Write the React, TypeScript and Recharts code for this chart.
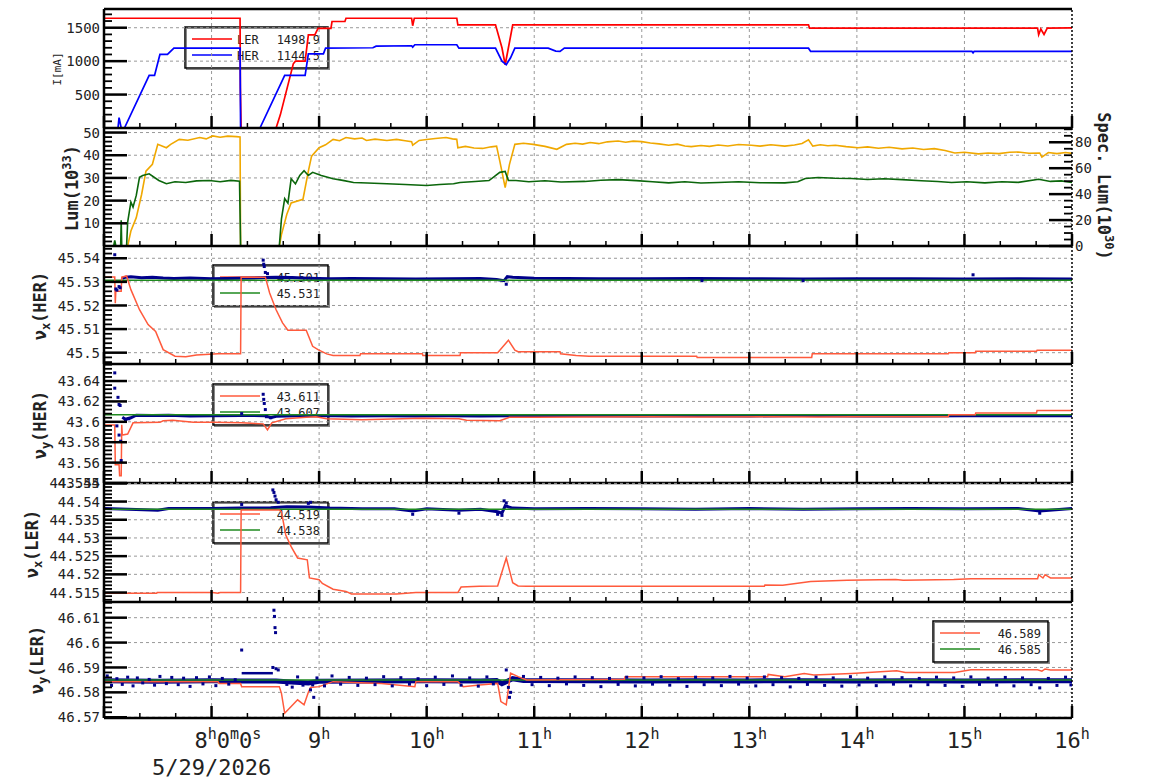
import React from 'react';
import { ComposedChart, Line, Scatter, XAxis, YAxis, ReferenceLine } from 'recharts';

const W = 1154;
const H = 782;
const LEFT = 104;
const RIGHT = 1072;
const MONO = '"DejaVu Sans Mono", monospace';
const INK = '#222';

type Pt = [number, number];

// ---- beam currents [hour, mA] ----
const LER_I: Pt[] = [
  [7.0, 1642], [8.265, 1642], [8.268, 600], [8.275, 0], [8.6, 0], [8.64, 200], [8.76, 960], [8.78, 1000],
  [8.87, 1000], [8.9, 1394], [8.96, 1394], [8.99, 1490], [9.11, 1490], [9.12, 1593], [9.24, 1593], [9.25, 1642],
  [9.86, 1642], [9.87, 1530], [9.885, 1642], [10.28, 1642], [10.29, 1544], [10.64, 1544], [10.7, 1200],
  [10.73, 946], [10.76, 1200], [10.8, 1544], [13.55, 1544], [13.56, 1493], [15.68, 1493], [15.69, 1394],
  [15.71, 1480], [15.74, 1400], [15.77, 1493], [16.0, 1499],
];
const HER_I: Pt[] = [
  [7.0, 0], [7.13, 0], [7.14, 155], [7.16, 0], [7.19, 0], [7.42, 787], [7.47, 787], [7.52, 1100], [7.59, 1100],
  [7.65, 1194], [8.265, 1194], [8.27, 0], [8.45, 0], [8.68, 787], [8.87, 787], [8.9, 1110], [9.04, 1110],
  [9.06, 1194], [9.5, 1200], [9.53, 1224], [9.86, 1230], [9.87, 1210], [9.89, 1245], [10.28, 1245], [10.3, 1194],
  [10.64, 1194], [10.7, 1000], [10.74, 946], [10.78, 1050], [10.82, 1194], [11.13, 1194], [11.2, 1150],
  [11.24, 1145], [11.28, 1194], [13.55, 1194], [13.57, 1145], [15.07, 1145], [15.08, 1125], [15.09, 1145],
  [16.0, 1145],
];

// ---- luminosity [hour, 1e33] and specific luminosity [hour, 1e30] ----
const LUM: Pt[] = [
  [7.0, 0], [7.22, 0], [7.25, 6.6], [7.3, 12.5], [7.35, 22.8], [7.39, 33], [7.45, 36], [7.5, 44.8], [7.58, 43.3],
  [7.62, 44.8], [7.7, 47], [7.78, 46.6], [7.89, 47.8], [7.95, 47.2], [8.01, 48.5], [8.08, 47.9], [8.15, 48.4],
  [8.23, 48.2], [8.265, 48], [8.27, 0], [8.63, 0], [8.65, 5],
  [8.7, 14], [8.74, 19], [8.85, 20.6], [8.9, 33], [8.93, 39.6], [9.0, 43.3], [9.06, 44.6], [9.13, 47], [9.19, 46.4],
  [9.25, 47.8], [9.33, 47.2], [9.4, 47.6], [9.44, 46.5], [9.52, 47.1], [9.63, 46.5], [9.72, 47.0], [9.8, 46.4],
  [9.86, 46], [9.87, 44.4], [9.93, 46.5], [10.0, 46.9], [10.08, 47.4], [10.18, 47.8], [10.24, 47.2], [10.28, 47],
  [10.29, 43.3], [10.36, 43.9], [10.44, 43.2], [10.52, 43], [10.6, 43.7], [10.65, 44], [10.68, 37.4],
  [10.73, 25.7], [10.77, 36], [10.82, 44.8], [10.9, 45.3], [10.99, 44.8], [11.1, 43.9], [11.21, 42.6],
  [11.3, 44.8], [11.38, 45.3], [11.45, 44.9], [11.52, 45.6], [11.6, 45.1], [11.68, 45.9], [11.78, 46.3],
  [11.85, 45.7], [11.92, 46.2], [12.0, 46], [12.08, 45.4], [12.16, 45.0], [12.25, 44.4], [12.33, 44.9],
  [12.4, 44.1], [12.46, 43.8], [12.55, 44.3], [12.63, 43.9], [12.71, 44.5], [12.8, 44.1], [12.9, 44.7],
  [13.02, 44.4], [13.1, 44.0], [13.2, 44.6], [13.33, 44], [13.42, 44.5], [13.49, 45.2], [13.55, 46.8],
  [13.59, 44], [13.66, 44.6], [13.73, 44.2], [13.8, 44.4], [13.9, 43.8], [14.01, 43.3], [14.1, 43.7],
  [14.2, 43.1], [14.3, 43.5], [14.42, 42.8], [14.52, 43.2], [14.62, 42.5], [14.72, 42.9], [14.82, 42.1],
  [14.91, 41], [15.0, 41.3], [15.13, 40.6], [15.22, 41.0], [15.32, 40.7], [15.42, 41.3], [15.5, 41.4],
  [15.6, 40.9], [15.7, 41], [15.72, 39.2], [15.78, 41.2], [15.86, 40.7], [15.94, 41.2], [16.0, 40.8],
];
const SPEC_LUM: Pt[] = [
  [7.0, 0], [7.09, 0], [7.1, 4.4], [7.11, 0], [7.155, 0], [7.16, 19.8], [7.165, 0], [7.21, 0], [7.22, 18.5],
  [7.25, 33.8], [7.27, 30], [7.3, 39], [7.33, 53], [7.36, 54.4], [7.42, 55.7], [7.51, 50.5], [7.58, 48],
  [7.66, 49.5], [7.76, 49], [7.86, 50.2], [7.98, 50.5], [8.08, 49.6], [8.18, 50.6], [8.26, 50], [8.265, 25],
  [8.27, 0], [8.63, 0], [8.65, 21], [8.68, 36.5], [8.71, 33], [8.74, 51.8],
  [8.78, 48], [8.82, 54.4], [8.86, 58], [8.9, 54.4], [8.94, 56.8], [9.02, 54.4], [9.13, 51.8], [9.22, 50.6],
  [9.32, 49], [9.45, 48.6], [9.63, 48], [9.8, 47.4], [10.0, 46.7], [10.12, 47.4], [10.25, 48], [10.31, 49],
  [10.45, 49.7], [10.58, 50.5], [10.68, 56.8], [10.73, 57.5], [10.76, 50.5], [10.83, 50.5], [10.95, 49.6],
  [11.1, 50.3], [11.25, 49.4], [11.47, 49.8], [11.62, 50.7], [11.78, 51.2], [11.95, 50.4], [12.1, 49.5],
  [12.25, 48.7], [12.4, 49.5], [12.55, 48.6], [12.71, 49], [12.9, 49.6], [13.1, 48.8], [13.33, 48.7],
  [13.45, 49.5], [13.52, 52], [13.64, 52.8], [13.8, 52.2], [13.95, 52], [14.1, 51.3], [14.25, 51.9],
  [14.42, 51.2], [14.6, 50.3], [14.75, 49.7], [14.88, 49], [15.02, 49.6], [15.19, 48.7], [15.35, 49.5],
  [15.5, 49.1], [15.69, 51.5], [15.8, 49.8], [15.9, 50.2], [16.0, 49],
];

// ---- tunes ----
const NUX_HER_SET: Pt[] = [
  [7.0, 45.5321], [7.1, 45.5321], [7.105, 45.521], [7.11, 45.526], [7.16, 45.526], [7.165, 45.532], [7.21, 45.5325],
  [7.25, 45.5267], [7.33, 45.5182], [7.41, 45.5119], [7.48, 45.509], [7.55, 45.5013], [7.66, 45.4985],
  [7.76, 45.4983], [7.86, 45.499], [8.06, 45.4995], [8.27, 45.4995], [8.275, 45.532], [8.5, 45.532],
  [8.54, 45.5253], [8.6, 45.5182], [8.66, 45.5126], [8.71, 45.5095], [8.88, 45.5095], [8.94, 45.5027],
  [8.99, 45.5013], [9.07, 45.4995], [9.13, 45.4988], [9.38, 45.4988], [9.385, 45.4995], [9.96, 45.4995],
  [9.965, 45.4988], [10.31, 45.4988], [10.315, 45.5], [10.66, 45.5], [10.76, 45.5053], [10.82, 45.5011],
  [10.85, 45.5004], [11.24, 45.5004], [11.245, 45.4995], [11.39, 45.4988], [11.51, 45.4985], [12.51, 45.4985],
  [12.515, 45.498], [13.58, 45.498], [13.585, 45.4995], [14.85, 45.4995], [14.855, 45.5], [15.1, 45.5],
  [15.105, 45.5006], [15.67, 45.5006], [15.675, 45.501], [16.0, 45.501],
];
const NUX_HER_REF: Pt[] = [[7.0, 45.5307], [16.0, 45.5307]];
const NUX_HER_MEAS: Pt[] = [
  [7.17, 45.5315], [7.2, 45.532], [7.25, 45.5322], [7.35, 45.5318], [7.45, 45.532], [7.55, 45.5316],
  [7.65, 45.5314], [7.8, 45.5316], [8.0, 45.5313], [8.27, 45.5315], [8.5, 45.5318], [8.6, 45.532],
  [8.75, 45.5318], [8.9, 45.5315], [9.1, 45.5313], [9.3, 45.5314], [9.6, 45.5313], [9.9, 45.5312],
  [10.2, 45.5313], [10.5, 45.5314], [10.65, 45.531], [10.72, 45.5305], [10.75, 45.5322], [10.8, 45.532],
  [11.0, 45.5315], [11.3, 45.5314], [11.6, 45.5313], [12.0, 45.5313], [12.5, 45.5314], [13.0, 45.5313],
  [13.5, 45.5312], [14.0, 45.5313], [14.5, 45.5313], [15.0, 45.5312], [15.5, 45.5313], [16.0, 45.5312],
];
const NUX_HER_DOTS: Pt[] = [
  [7.1, 45.5415], [7.11, 45.527], [7.12, 45.5265], [7.14, 45.528], [7.15, 45.5275], [8.48, 45.5392],
  [8.485, 45.5375], [8.49, 45.5365], [8.5, 45.534], [8.52, 45.5335], [10.74, 45.529], [12.56, 45.5305],
  [13.5, 45.5305], [15.08, 45.533],
];

const NUY_HER_SET: Pt[] = [
  [7.0, 43.597], [7.1, 43.597], [7.105, 43.558], [7.14, 43.558], [7.145, 43.547], [7.16, 43.547], [7.165, 43.597],
  [7.17, 43.587], [7.22, 43.588], [7.27, 43.599], [7.52, 43.5995], [7.55, 43.601], [7.64, 43.6015],
  [7.83, 43.5995], [8.01, 43.5995], [8.28, 43.599], [8.48, 43.598], [8.52, 43.592], [8.56, 43.599],
  [8.69, 43.603], [8.88, 43.6045], [8.97, 43.605], [9.07, 43.603], [9.4, 43.602], [9.96, 43.6035],
  [10.3, 43.603], [10.37, 43.6015], [10.68, 43.601], [10.77, 43.6045], [11.0, 43.6045], [11.47, 43.6047],
  [12.06, 43.605], [12.52, 43.6047], [13.17, 43.605], [13.64, 43.6047], [13.95, 43.605], [14.85, 43.605],
  [14.855, 43.607], [15.1, 43.607], [15.105, 43.6087], [15.67, 43.6087], [15.675, 43.611], [16.0, 43.611],
];
const NUY_HER_REF: Pt[] = [[7.0, 43.607], [16.0, 43.607]];
const NUY_HER_MEAS: Pt[] = [
  [7.17, 43.6045], [7.2, 43.6025], [7.25, 43.604], [7.3, 43.6065], [7.45, 43.6062], [7.6, 43.6065],
  [7.8, 43.6058], [8.0, 43.606], [8.27, 43.6062], [8.5, 43.606], [8.55, 43.604], [8.6, 43.6055], [8.8, 43.606],
  [9.0, 43.6062], [9.3, 43.6058], [9.6, 43.606], [9.9, 43.6057], [10.2, 43.606], [10.5, 43.6058], [10.8, 43.606],
  [11.2, 43.6062], [11.6, 43.606], [12.0, 43.6058], [12.5, 43.606], [13.0, 43.6057], [13.5, 43.6062],
  [14.0, 43.6058], [14.5, 43.6057], [15.0, 43.606], [15.5, 43.606], [16.0, 43.606],
];
const NUY_HER_DOTS: Pt[] = [
  [7.1, 43.648], [7.1, 43.633], [7.13, 43.624], [7.14, 43.617], [7.15, 43.616], [7.12, 43.596], [7.14, 43.587],
  [7.155, 43.581], [7.16, 43.562], [7.2, 43.602], [7.23, 43.603], [8.28, 43.608], [8.48, 43.627],
  [8.485, 43.622], [8.49, 43.618], [8.5, 43.612], [8.51, 43.605], [8.55, 43.604],
];

const NUX_LER_SET: Pt[] = [
  [7.0, 44.5148], [7.49, 44.5148], [7.495, 44.515], [8.01, 44.515], [8.06, 44.5148], [8.08, 44.515],
  [8.27, 44.515], [8.275, 44.5377], [8.63, 44.5377], [8.65, 44.5372], [8.69, 44.5308], [8.74, 44.5276],
  [8.8, 44.5245], [8.89, 44.524], [8.91, 44.519], [9.0, 44.5185], [9.03, 44.5175], [9.13, 44.5159],
  [9.25, 44.5153], [9.3, 44.5146], [9.72, 44.5146], [9.9, 44.515], [10.29, 44.515], [10.32, 44.5165],
  [10.49, 44.5167], [10.66, 44.5168], [10.74, 44.5245], [10.8, 44.5177], [10.85, 44.5168], [10.93, 44.5167],
  [13.14, 44.5167], [13.145, 44.5171], [13.31, 44.517], [13.57, 44.518], [13.91, 44.5184], [14.36, 44.5186],
  [14.43, 44.5184], [14.9, 44.5186], [15.06, 44.5188], [15.68, 44.5188], [15.69, 44.5199], [15.73, 44.519],
  [15.75, 44.5199], [15.8, 44.519], [16.0, 44.519],
];
const NUX_LER_REF: Pt[] = [[7.0, 44.5379], [16.0, 44.5379]];
const NUX_LER_MEAS: Pt[] = [
  [7.0, 44.5381], [7.3, 44.5378], [7.5, 44.5376], [7.6, 44.5381], [8.0, 44.5381], [8.27, 44.5382],
  [8.55, 44.5383], [8.7, 44.5386], [8.9, 44.5385], [9.1, 44.5382], [9.4, 44.538], [9.7, 44.538], [9.87, 44.5374],
  [10.0, 44.538], [10.3, 44.5376], [10.5, 44.5379], [10.66, 44.5372], [10.7, 44.5368], [10.73, 44.5388],
  [10.8, 44.5382], [11.0, 44.538], [11.5, 44.5381], [12.0, 44.538], [12.5, 44.5379], [13.0, 44.5381],
  [13.5, 44.5379], [14.0, 44.538], [14.5, 44.5381], [15.0, 44.538], [15.5, 44.5381], [15.7, 44.5374],
  [16.0, 44.5381],
];
const NUX_LER_DOTS: Pt[] = [
  [8.28, 44.5392], [8.57, 44.5432], [8.58, 44.5425], [8.59, 44.5415], [8.6, 44.5405], [8.62, 44.5398],
  [8.9, 44.5395], [8.92, 44.5398], [9.87, 44.5365], [10.3, 44.5368], [10.66, 44.5365], [10.72, 44.5402],
  [10.74, 44.5396], [10.7, 44.5362], [15.7, 44.5368],
];

const NUY_LER_SET: Pt[] = [
  [7.0, 46.5843], [8.06, 46.5843], [8.07, 46.5836], [8.27, 46.5836], [8.28, 46.5823], [8.63, 46.5823],
  [8.65, 46.5796], [8.68, 46.5716], [8.74, 46.5743], [8.8, 46.577], [8.86, 46.575], [8.9, 46.58], [8.92, 46.582],
  [9.0, 46.5823], [9.13, 46.5843], [9.58, 46.5836], [9.89, 46.5823], [9.9, 46.5843], [10.29, 46.5843],
  [10.34, 46.5823], [10.49, 46.583], [10.66, 46.5836], [10.69, 46.5763], [10.74, 46.575], [10.78, 46.5877],
  [10.85, 46.5863], [10.93, 46.585], [11.84, 46.5853], [11.845, 46.5863], [13.17, 46.5863], [13.175, 46.5872],
  [13.33, 46.5863], [13.51, 46.5876], [13.6, 46.587], [13.95, 46.5876], [14.37, 46.5887], [14.45, 46.588],
  [14.91, 46.588], [15.06, 46.5891], [15.68, 46.5891], [15.72, 46.5885], [15.75, 46.5894], [15.8, 46.589],
  [16.0, 46.589],
];
const NUY_LER_REF: Pt[] = [[7.0, 46.585], [16.0, 46.585]];
const NUY_LER_MEAS: Pt[] = [
  [7.0, 46.5847], [7.5, 46.5845], [8.0, 46.5847], [8.27, 46.5846], [8.6, 46.5846], [8.7, 46.5843],
  [8.9, 46.5838], [9.0, 46.5845], [9.5, 46.5846], [10.0, 46.5847], [10.5, 46.5846], [10.65, 46.5848],
  [10.7, 46.5835], [10.8, 46.5855], [10.9, 46.5848], [11.5, 46.5847], [12.0, 46.5846], [12.5, 46.5847],
  [13.0, 46.5846], [13.5, 46.5847], [14.0, 46.5846], [14.5, 46.5847], [15.0, 46.5846], [15.5, 46.5847],
  [16.0, 46.5847],
];
const NUY_LER_FLAT: Pt[] = [[8.28, 46.5877], [8.57, 46.5877]];
const NUY_LER_DOTS: Pt[] = [
  [8.28, 46.597], [8.58, 46.613], [8.585, 46.6105], [8.59, 46.606], [8.595, 46.604], [8.57, 46.59], [8.6, 46.5895],
  [8.62, 46.589], [8.92, 46.581], [8.94, 46.583], [8.95, 46.578], [10.74, 46.589], [10.76, 46.582], [10.77, 46.578],
  [10.78, 46.58],
  [7.03, 46.5866], [7.07, 46.5828], [7.12, 46.5855], [7.17, 46.5832], [7.22, 46.5861], [7.27, 46.5826],
  [7.31, 46.5858], [7.36, 46.5838], [7.42, 46.5852], [7.47, 46.5829], [7.52, 46.5864], [7.58, 46.5835],
  [7.63, 46.586], [7.69, 46.5831], [7.74, 46.5857], [7.8, 46.5824], [7.86, 46.5859], [7.92, 46.5834],
  [7.98, 46.5862], [8.04, 46.5827], [8.1, 46.5856], [8.16, 46.5833], [8.22, 46.5851], [8.7, 46.5832],
  [8.75, 46.5821], [8.8, 46.5862], [8.85, 46.5829], [8.98, 46.5858], [9.05, 46.5826], [9.12, 46.5866],
  [9.2, 46.5833], [9.28, 46.586], [9.36, 46.5828], [9.44, 46.5857], [9.52, 46.5831], [9.6, 46.5863],
  [9.68, 46.5826], [9.76, 46.5859], [9.84, 46.5833], [9.92, 46.5855], [10.0, 46.5827], [10.08, 46.5861],
  [10.16, 46.5832], [10.24, 46.5866], [10.32, 46.5829], [10.4, 46.5858], [10.48, 46.5825], [10.56, 46.5862],
  [10.62, 46.5834], [10.9, 46.5864], [10.98, 46.5831], [11.06, 46.586], [11.14, 46.5827], [11.22, 46.5857],
  [11.3, 46.5834], [11.38, 46.5862], [11.46, 46.5828], [11.54, 46.5859], [11.62, 46.5823], [11.7, 46.5856],
  [11.78, 46.5832], [11.86, 46.5861], [11.94, 46.5826], [12.02, 46.5858], [12.1, 46.5833], [12.18, 46.5863],
  [12.26, 46.5829], [12.34, 46.5855], [12.42, 46.5824], [12.5, 46.5861], [12.58, 46.5831], [12.66, 46.5858],
  [12.74, 46.5827], [12.82, 46.5864], [12.9, 46.5833], [12.98, 46.5857], [13.06, 46.5826], [13.14, 46.5862],
  [13.22, 46.5831], [13.3, 46.5859], [13.38, 46.5822], [13.46, 46.5856], [13.54, 46.5832], [13.62, 46.5861],
  [13.7, 46.5828], [13.78, 46.5858], [13.86, 46.5825], [13.94, 46.5863], [14.02, 46.583], [14.1, 46.5857],
  [14.18, 46.5827], [14.26, 46.5862], [14.34, 46.5833], [14.42, 46.5859], [14.5, 46.5826], [14.58, 46.5856],
  [14.66, 46.5831], [14.74, 46.5861], [14.82, 46.5828], [14.9, 46.5858], [14.98, 46.5824], [15.06, 46.5862],
  [15.14, 46.5832], [15.22, 46.5857], [15.3, 46.5829], [15.38, 46.586], [15.46, 46.5826], [15.54, 46.5858],
  [15.62, 46.5831], [15.7, 46.5818], [15.78, 46.5856], [15.86, 46.5828], [15.94, 46.5861], [15.99, 46.583],
];

// ---- axis labels / legends ----
const GRID_HOURS = [8, 9, 10, 11, 12, 13, 14, 15];
const LABEL_HOURS = [9, 10, 11, 12, 13, 14, 15, 16];
const DATE_LABEL = '5/29/2026';
const LEG_I = [['LER', '1498.9', '#ff0000'], ['HER', '1144.5', '#0000ff']];
const LEG_NUX_HER = ['45.501', '45.531'];
const LEG_NUY_HER = ['43.611', '43.607'];
const LEG_NUX_LER = ['44.519', '44.538'];
const LEG_NUY_LER = ['46.589', '46.585'];

const SET_RED = '#ff5a3c';
const REF_GREEN = '#1f8a1f';
const MEAS_BLUE = '#00008b';

const pts = (a: Pt[]) => a.map(([t, v]) => ({ t, v }));
const fmt = (v: number) => String(+v.toFixed(4));

function makeTicks(lo: number, hi: number, step: number) {
  const out: number[] = [];
  for (let k = Math.ceil(lo / step - 1e-6); k * step <= hi + 1e-9; k++) out.push(+(k * step).toFixed(6));
  return out;
}

const X_TICKS = makeTicks(7, 16, 1 / 3);

const Sq = (p: any) => <rect x={p.cx - 1.5} y={p.cy - 1.5} width={3} height={3} fill={MEAS_BLUE} />;

function XTick({ x, payload, bottom, labels }: any) {
  const v = payload.value;
  const major = Math.abs(v - Math.round(v)) < 1e-4;
  const h = Math.round(v);
  return (
    <g>
      <line x1={x} x2={x} y1={bottom} y2={bottom - (major ? 12 : 5)} stroke="#000" strokeWidth={major ? 2.5 : 1.5} />
      {labels && major && h === 8 && (
        <g fontFamily={MONO} fill={INK}>
          <text x={x - 17} y={748} fontSize={22}>
            <tspan>8</tspan><tspan fontSize={15} dy={-9}>h</tspan>
            <tspan dy={9}>0</tspan><tspan fontSize={15} dy={-9}>m</tspan>
            <tspan dy={9}>0</tspan><tspan fontSize={15} dy={-9}>s</tspan>
          </text>
          <text x={x} y={775} fontSize={22} textAnchor="middle">{DATE_LABEL}</text>
        </g>
      )}
      {labels && major && LABEL_HOURS.includes(h) && (
        <text x={x} y={748} fontSize={22} fontFamily={MONO} fill={INK} textAnchor="middle">
          <tspan>{h}</tspan><tspan fontSize={15} dy={-9}>h</tspan>
        </text>
      )}
    </g>
  );
}

function YTick({ y, payload, majors, step, side }: any) {
  const v = payload.value;
  const major = majors.some((m: number) => Math.abs(m - v) < step / 10);
  const len = major ? 23 : 8;
  const x0 = side === 'r' ? RIGHT : LEFT;
  const x1 = side === 'r' ? RIGHT - len : LEFT + len;
  return (
    <g>
      <line x1={x0} x2={x1} y1={y} y2={y} stroke="#000" strokeWidth={major ? 2.5 : 1.8} />
      {major && (
        <text x={side === 'r' ? RIGHT + 3 : LEFT - 4} y={y} dy="0.36em" fontSize={14} fontFamily={MONO} fill={INK}
          textAnchor={side === 'r' ? 'start' : 'end'}>
          {fmt(v)}
        </text>
      )}
    </g>
  );
}

type Series = { data: Pt[]; color: string; width?: number; dots?: boolean; axis?: string };
type PanelSpec = {
  top: number; bottom: number; domain: [number, number]; step: number; majors: number[];
  right?: { domain: [number, number]; step: number; majors: number[] };
  series: Series[]; topBorder?: boolean; xLabels?: boolean;
};

const PANELS: PanelSpec[] = [
  {
    top: 9, bottom: 128, domain: [0, 1780], step: 100, majors: [500, 1000, 1500], topBorder: true,
    series: [
      { data: LER_I, color: '#ff0000', width: 1.7 },
      { data: HER_I, color: '#0000ff', width: 1.7 },
    ],
  },
  {
    top: 128, bottom: 246, domain: [0, 52], step: 2, majors: [10, 20, 30, 40, 50],
    right: { domain: [0, 91], step: 5, majors: [0, 20, 40, 60, 80] },
    series: [
      { data: LUM, color: '#f0a800', width: 1.6 },
      { data: SPEC_LUM, color: '#0b660b', width: 1.6, axis: 'r' },
    ],
  },
  {
    top: 246, bottom: 364, domain: [45.4952, 45.5452], step: 0.002, majors: [45.5, 45.51, 45.52, 45.53, 45.54],
    series: [
      { data: NUX_HER_MEAS, color: MEAS_BLUE, width: 3 },
      { data: NUX_HER_DOTS, color: MEAS_BLUE, dots: true },
      { data: NUX_HER_REF, color: REF_GREEN, width: 1.5 },
      { data: NUX_HER_SET, color: SET_RED, width: 1.5 },
    ],
  },
  {
    top: 364, bottom: 483, domain: [43.54, 43.6567], step: 0.004,
    majors: [43.54, 43.56, 43.58, 43.6, 43.62, 43.64],
    series: [
      { data: NUY_HER_MEAS, color: MEAS_BLUE, width: 3 },
      { data: NUY_HER_DOTS, color: MEAS_BLUE, dots: true },
      { data: NUY_HER_REF, color: REF_GREEN, width: 1.5 },
      { data: NUY_HER_SET, color: SET_RED, width: 1.5 },
    ],
  },
  {
    top: 483, bottom: 602, domain: [44.5124, 44.5451], step: 0.001,
    majors: [44.515, 44.52, 44.525, 44.53, 44.535, 44.54, 44.545],
    series: [
      { data: NUX_LER_MEAS, color: MEAS_BLUE, width: 3 },
      { data: NUX_LER_DOTS, color: MEAS_BLUE, dots: true },
      { data: NUX_LER_REF, color: REF_GREEN, width: 1.5 },
      { data: NUX_LER_SET, color: SET_RED, width: 1.5 },
    ],
  },
  {
    top: 602, bottom: 718, domain: [46.5697, 46.6163], step: 0.002, majors: [46.57, 46.58, 46.59, 46.6, 46.61],
    xLabels: true,
    series: [
      { data: NUY_LER_MEAS, color: MEAS_BLUE, width: 5 },
      { data: NUY_LER_FLAT, color: MEAS_BLUE, width: 2.5 },
      { data: NUY_LER_DOTS, color: MEAS_BLUE, dots: true },
      { data: NUY_LER_REF, color: REF_GREEN, width: 1.5 },
      { data: NUY_LER_SET, color: SET_RED, width: 1.5 },
    ],
  },
];

function Panel({ p }: { p: PanelSpec }) {
  const ticks = makeTicks(p.domain[0], p.domain[1], p.step);
  const axisLine = { stroke: '#000', strokeWidth: 2.5 };
  return (
    <div style={{ position: 'absolute', left: 0, top: 0 }}>
      <ComposedChart width={W} height={H} margin={{ top: p.top, bottom: 0, left: 0, right: p.right ? 0 : W - RIGHT }}>
        <XAxis type="number" dataKey="t" domain={[7, 16]} ticks={X_TICKS} interval={0} allowDataOverflow
          height={H - p.bottom} axisLine={axisLine} tickLine={false}
          tick={(tp: any) => <XTick {...tp} bottom={p.bottom} labels={p.xLabels} />} />
        <YAxis yAxisId="l" type="number" domain={p.domain} ticks={ticks} interval={0} allowDataOverflow width={LEFT}
          axisLine={axisLine} tickLine={false}
          tick={(tp: any) => <YTick {...tp} majors={p.majors} step={p.step} side="l" />} />
        {p.right && (
          <YAxis yAxisId="r" orientation="right" type="number" domain={p.right.domain}
            ticks={makeTicks(p.right.domain[0], p.right.domain[1], p.right.step)} interval={0} allowDataOverflow
            width={W - RIGHT} axisLine={false} tickLine={false}
            tick={(tp: any) => <YTick {...tp} majors={p.right!.majors} step={p.right!.step} side="r" />} />
        )}
        {p.majors.map((m) => (
          <ReferenceLine key={'y' + m} yAxisId="l" y={m} stroke="#999" strokeDasharray="3 3" />
        ))}
        {GRID_HOURS.map((h) => (
          <ReferenceLine key={'x' + h} yAxisId="l" x={h} stroke="#999" strokeDasharray="3 3" />
        ))}
        {p.series.map((s, i) =>
          s.dots ? (
            <Scatter key={i} yAxisId="l" data={pts(s.data)} dataKey="v" fill={s.color} shape={Sq}
              isAnimationActive={false} />
          ) : (
            <Line key={i} yAxisId={s.axis || 'l'} data={pts(s.data)} dataKey="v" type="linear" stroke={s.color}
              strokeWidth={s.width} dot={false} activeDot={false} isAnimationActive={false} />
          )
        )}
        {p.topBorder && <ReferenceLine yAxisId="l" y={p.domain[1]} stroke="#000" strokeWidth={2.5} />}
        <ReferenceLine yAxisId="l" x={16} stroke="#000" strokeWidth={1.5} strokeDasharray="2 2" />
      </ComposedChart>
    </div>
  );
}

function Legend({ x, y, w, rows, valueRight }: { x: number; y: number; w: number; rows: string[][]; valueRight: number }) {
  return (
    <g fontFamily={MONO} fontSize={12} fill={INK}>
      <rect x={x + 1.5} y={y + 1.5} width={w} height={41} fill="none" stroke="#888" strokeWidth={1} />
      <rect x={x} y={y} width={w} height={41} fill="none" stroke="#000" strokeWidth={1.5} />
      {rows.map((r, i) => (
        <g key={i}>
          <line x1={x + 7} x2={x + 47} y1={y + 12 + i * 16} y2={y + 12 + i * 16} stroke={r[2]} strokeWidth={1.5} />
          {r[0] && <text x={x + 52} y={y + 16.5 + i * 16}>{r[0]}</text>}
          <text x={x + valueRight} y={y + 16.5 + i * 16} textAnchor="end">{r[1]}</text>
        </g>
      ))}
    </g>
  );
}

const tuneRows = (vals: string[]) => [['', vals[0], SET_RED], ['', vals[1], REF_GREEN]];

function NuTitle({ x, y, sub, ring }: { x: number; y: number; sub: string; ring: string }) {
  return (
    <text x={x} y={y} transform={`rotate(-90 ${x} ${y})`} textAnchor="middle" fontFamily={MONO} fontSize={17}
      fontWeight="bold" fill={INK} dy="0.35em">
      <tspan>ν</tspan><tspan fontSize={12} dy={4}>{sub}</tspan><tspan dy={-4}>({ring})</tspan>
    </text>
  );
}

function Overlay() {
  return (
    <svg width={W} height={H} style={{ position: 'absolute', left: 0, top: 0 }}>
      <text x={57} y={69} transform="rotate(-90 57 69)" textAnchor="middle" dy="0.35em" fontFamily={MONO}
        fontSize={11} fill={INK}>I[mA]</text>
      <text x={72} y={188} transform="rotate(-90 72 188)" textAnchor="middle" dy="0.35em" fontFamily={MONO}
        fontSize={17} fontWeight="bold" fill={INK}>
        <tspan>Lum(10</tspan><tspan fontSize={12} dy={-7}>33</tspan><tspan dy={7}>)</tspan>
      </text>
      <text x={1104} y={186} transform="rotate(90 1104 186)" textAnchor="middle" dy="0.35em" fontFamily={MONO}
        fontSize={17} fontWeight="bold" fill={INK}>
        <tspan>Spec. Lum(10</tspan><tspan fontSize={12} dy={-7}>30</tspan><tspan dy={7}>)</tspan>
      </text>
      <NuTitle x={40} y={306} sub="x" ring="HER" />
      <NuTitle x={40} y={425} sub="y" ring="HER" />
      <NuTitle x={32} y={544} sub="x" ring="LER" />
      <NuTitle x={37} y={660} sub="y" ring="LER" />
      <Legend x={185} y={27} w={143} rows={LEG_I} valueRight={135} />
      <Legend x={213} y={265} w={115} rows={tuneRows(LEG_NUX_HER)} valueRight={107} />
      <Legend x={213} y={384} w={115} rows={tuneRows(LEG_NUY_HER)} valueRight={107} />
      <Legend x={213} y={502} w={115} rows={tuneRows(LEG_NUX_LER)} valueRight={107} />
      <Legend x={933} y={621} w={115} rows={tuneRows(LEG_NUY_LER)} valueRight={108} />
    </svg>
  );
}

export default function App() {
  return (
    <div style={{ position: 'absolute', left: 0, top: 0, width: W, height: H, background: '#fff', overflow: 'hidden' }}>
      <Overlay />
      {PANELS.map((p, i) => (
        <Panel key={i} p={p} />
      ))}
    </div>
  );
}
